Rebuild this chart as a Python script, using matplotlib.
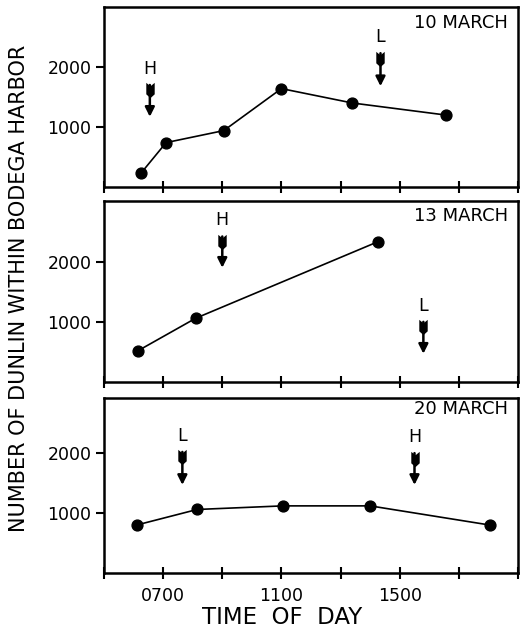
import matplotlib.pyplot as plt
from matplotlib.path import Path

plt.rcParams['font.family'] = ['DejaVu Sans']

# counts of dunlin per survey (time in decimal hours)
dates = ["10 MARCH", "13 MARCH", "20 MARCH"]
times_10 = [6.25, 7.1, 9.05, 11.0, 13.4, 16.55]
counts_10 = [230, 740, 940, 1640, 1400, 1200]
times_13 = [6.15, 8.1, 14.25]
counts_13 = [520, 1060, 2330]
times_20 = [6.1, 8.15, 11.05, 14.0, 18.05]
counts_20 = [800, 1060, 1120, 1120, 800]

# tides: label, hour, arrow top, arrow bottom
tides_10 = [("H", 6.55, 1700, 1170), ("L", 14.35, 2230, 1680)]
tides_13 = [("H", 9.0, 2420, 1900), ("L", 15.8, 1000, 470)]
tides_20 = [("L", 7.65, 2020, 1470), ("H", 15.5, 2000, 1470)]

xticks = [5, 7, 9, 11, 13, 15, 17, 19]
xticklabels = ["", "0700", "", "1100", "", "1500", "", ""]

# fletched tail for the tide arrows
fletch = Path([(-0.55, 1), (0, 0.55), (0.55, 1), (0.55, -0.5), (0, -1),
               (-0.55, -0.5), (-0.55, 1)],
              [Path.MOVETO] + [Path.LINETO] * 5 + [Path.CLOSEPOLY])

W, H = 523, 629
fig = plt.figure(figsize=(W / 100, H / 100), dpi=100)

# panel boxes in pixels: top, bottom
boxes = [(7, 187), (201, 382), (398, 573)]
ytops = [3000, 3010, 2920]
series = [(times_10, counts_10, tides_10), (times_13, counts_13, tides_13),
          (times_20, counts_20, tides_20)]
title_y = [0.91, 0.915, 0.935]

for i, ((top, bot), (tx, cy, tides)) in enumerate(zip(boxes, series)):
    ax = fig.add_axes([104 / W, 1 - bot / H, 414 / W, (bot - top) / H])
    ax.plot(tx, cy, color="black", lw=1.2, marker="o", ms=7.8)
    ax.set_xlim(5, 19)
    ax.set_ylim(0, ytops[i])
    ax.set_yticks([1000, 2000])
    ax.set_xticks(xticks)
    if i == 2:
        ax.set_xticklabels(xticklabels, fontsize=12.5)
    else:
        ax.set_xticklabels([])
    ax.tick_params(axis="y", direction="out", length=6, width=1.5,
                   labelsize=12.5, pad=3)
    ax.tick_params(axis="x", direction="inout", length=8, width=1.5, pad=6)
    for s in ax.spines.values():
        s.set_linewidth(1.8)
    ax.text(0.975, title_y[i], dates[i], transform=ax.transAxes,
            ha="right", va="center", fontsize=13)
    for lab, hx, ytop, ybot in tides:
        ax.annotate("", xy=(hx, ybot), xytext=(hx, ytop),
                    arrowprops=dict(arrowstyle="-|>", color="black", lw=1.8,
                                    mutation_scale=14, shrinkA=0, shrinkB=0))
        ax.plot([hx], [ytop - 90], marker=fletch, ms=11, color="black", mew=0)
        ax.text(hx, ytop + 270, lab, ha="center", va="center", fontsize=12.5)

fig.text(0.037, 0.542, "NUMBER OF DUNLIN WITHIN BODEGA HARBOR",
         rotation=90, ha="center", va="center", fontsize=15)
fig.text(282 / W, 1 - 617 / H, "TIME  OF  DAY", ha="center", va="center",
         fontsize=16.5)

fig.savefig("out.png", dpi=100, facecolor="white")
